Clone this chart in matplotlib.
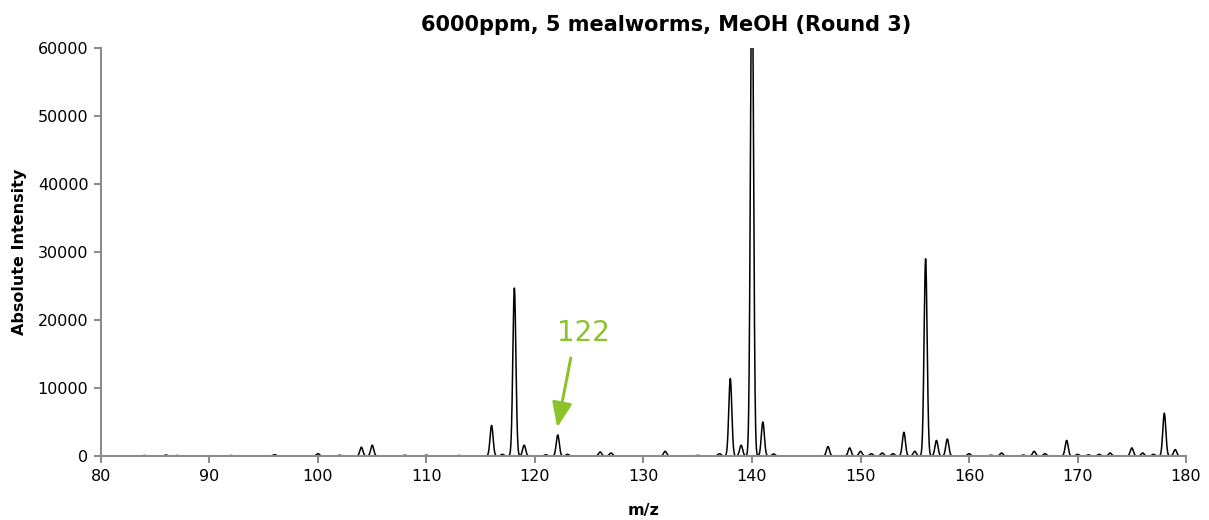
import numpy as np
from matplotlib import pyplot as plt

# peak list: m/z and absolute intensity
peak_mz = [84, 86, 87, 90, 92, 96, 100, 102, 104, 105, 108, 110, 113, 116, 117, 118.1, 119,
           121, 122.1, 123, 126, 127, 132, 135, 137, 138, 139, 140, 141, 142, 147, 149, 150,
           151, 152, 153, 154, 155, 156, 157, 158, 160, 162, 163, 165, 166, 167, 169, 170,
           171, 172, 173, 175, 176, 177, 178, 179]
peak_int = [80, 150, 80, 60, 80, 200, 350, 120, 1300, 1600, 120, 120, 80, 4500, 250, 24700,
            1600, 200, 3100, 250, 600, 450, 700, 100, 350, 11400, 1600, 75000, 5000, 300,
            1400, 1200, 700, 350, 450, 350, 3500, 700, 29000, 2300, 2500, 350, 120, 450, 150,
            700, 350, 2300, 250, 180, 250, 450, 1200, 450, 250, 6300, 950]

label_mz = 122
label_int = 3100
green = '#8cc22a'
grey = '#8c8c8c'


def spectrum(x, centers, heights, sigma=0.14):
    y = np.zeros_like(x)
    for c, h in zip(centers, heights):
        y += h * np.exp(-0.5 * ((x - c) / sigma) ** 2)
    return y


mz = np.linspace(80, 180, 8000)
intensity = spectrum(mz, peak_mz, peak_int)

fig = plt.figure(figsize=(12.09, 5.2), dpi=100)
ax = fig.add_axes([0.0835, 0.123, 0.8975, 0.785])

ax.plot(mz, intensity, color='black', lw=1.1)

ax.set_xlim(80, 180)
ax.set_ylim(0, 60000)
ax.set_xticks(range(80, 181, 10))
ax.set_yticks(range(0, 60001, 10000))

for side in ('top', 'right'):
    ax.spines[side].set_visible(False)
for side in ('left', 'bottom'):
    ax.spines[side].set_color(grey)
    ax.spines[side].set_linewidth(1.5)
ax.tick_params(axis='both', direction='out', color=grey, width=1.5, length=5,
               labelsize=11.5, pad=4)

ax.set_xlabel('m/z', fontsize=11.5, fontweight='bold', labelpad=14)
ax.set_ylabel('Absolute Intensity', fontsize=11.5, fontweight='bold', labelpad=8)
ax.set_title('6000ppm, 5 mealworms, MeOH (Round 3)', fontsize=15, fontweight='bold',
             x=0.521, pad=12)

# label and arrow pointing at the 122 peak
ax.text(label_mz + 2.5, 18100, str(label_mz), color=green, fontsize=20,
        ha='center', va='center')
ax.annotate('', xy=(label_mz + 0.05, label_int + 1100), xytext=(label_mz + 1.3, 14400),
            arrowprops=dict(arrowstyle='-|>,head_width=0.6,head_length=1.5', color=green,
                            lw=2.2, shrinkA=0, shrinkB=0))

fig.savefig('out.png', dpi=100)
